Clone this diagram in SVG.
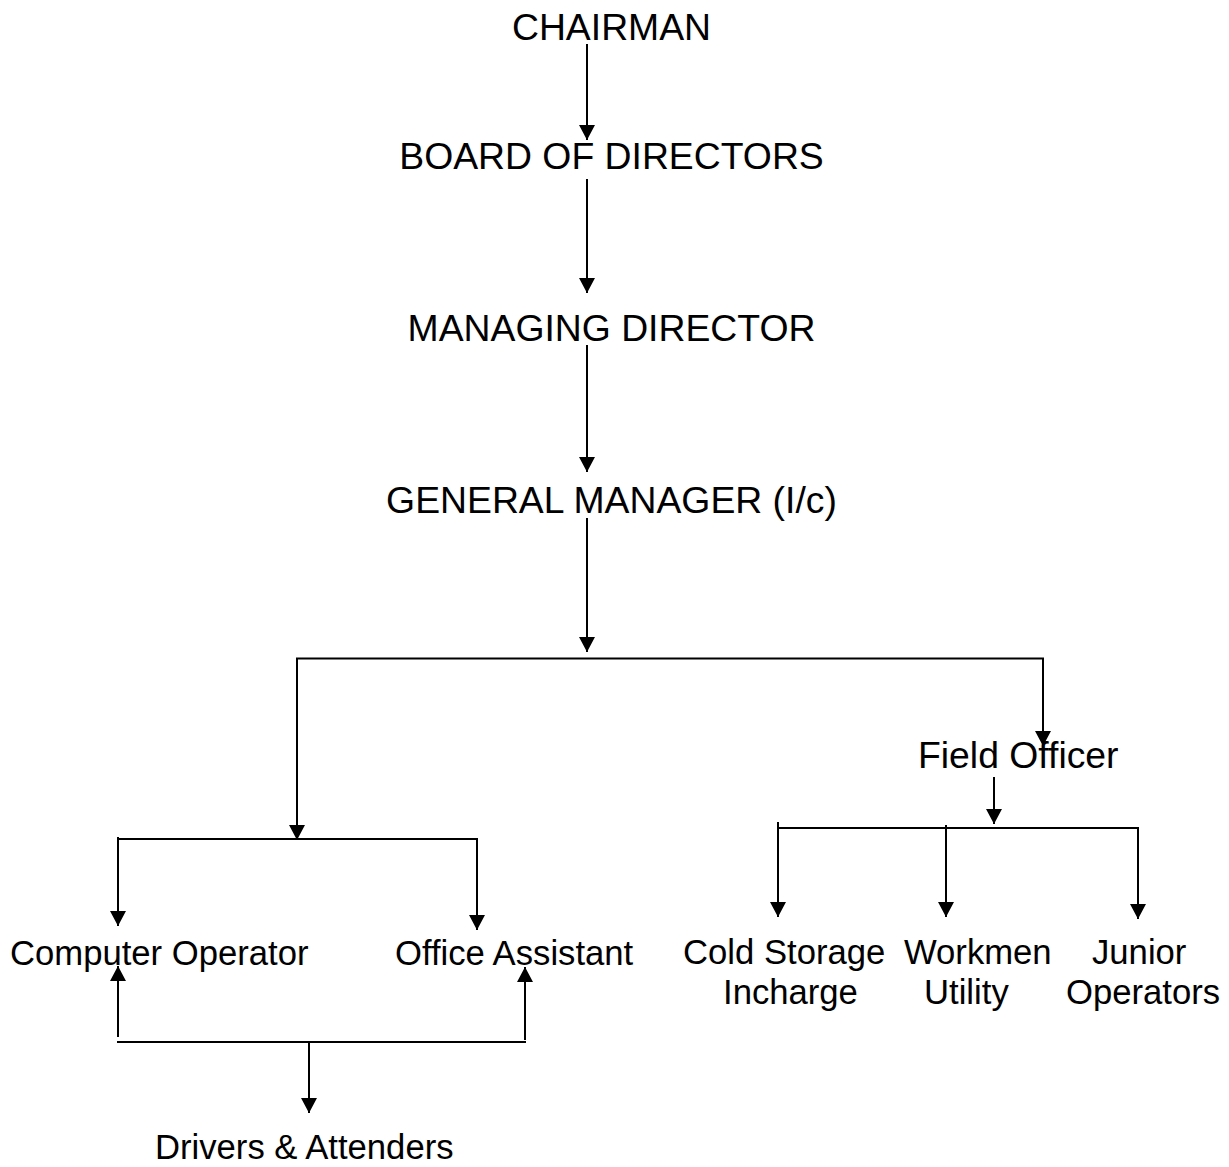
<svg xmlns="http://www.w3.org/2000/svg" width="1229" height="1167" viewBox="0 0 1229 1167">
<style>
  .t { font-family: "Liberation Sans", Arial, sans-serif; fill: #000; }
  .big { font-size: 37.33px; }
  .small { font-size: 34.67px; }
  .c { text-anchor: middle; }
  .ln { stroke: #000; stroke-width: 2; fill: none; }
  .ar { marker-end: url(#ah); }
</style>
<defs>
  <marker id="ah" markerUnits="userSpaceOnUse" markerWidth="15" markerHeight="16" refX="15" refY="8" orient="auto" viewBox="0 0 15 16">
    <path d="M0,0 L15,8 L0,16 z" fill="#000"/>
  </marker>
</defs>
<rect width="1229" height="1167" fill="#fff"/>
<g id="connectors">
  <line class="ln ar" x1="587" y1="44" x2="587" y2="140"/>
  <line class="ln ar" x1="587" y1="179" x2="587" y2="293"/>
  <line class="ln ar" x1="587" y1="345" x2="587" y2="472"/>
  <line class="ln ar" x1="587" y1="518" x2="587" y2="652"/>
  <line class="ln" x1="296" y1="658.5" x2="1044" y2="658.5"/>
  <line class="ln ar" x1="297" y1="658" x2="297" y2="840"/>
  <line class="ln ar" x1="1043" y1="658" x2="1043" y2="746"/>
  <line class="ln" x1="118" y1="839" x2="478" y2="839"/>
  <line class="ln ar" x1="118" y1="837" x2="118" y2="926"/>
  <line class="ln ar" x1="477" y1="838" x2="477" y2="930"/>
  <line class="ln ar" x1="994" y1="777" x2="994" y2="824"/>
  <line class="ln" x1="778" y1="828" x2="1139" y2="828"/>
  <line class="ln ar" x1="778" y1="822" x2="778" y2="917"/>
  <line class="ln ar" x1="946" y1="825" x2="946" y2="917"/>
  <line class="ln ar" x1="1138" y1="827" x2="1138" y2="919"/>
  <line class="ln" x1="117" y1="1042" x2="526" y2="1042"/>
  <line class="ln ar" x1="118" y1="1037" x2="118" y2="966"/>
  <line class="ln ar" x1="525" y1="1040" x2="525" y2="967"/>
  <line class="ln ar" x1="309" y1="1042" x2="309" y2="1113"/>
</g>
<g id="chairman"><text class="t big c" x="611.5" y="40">CHAIRMAN</text></g>
<g id="board"><text class="t big c" x="611.5" y="169">BOARD OF DIRECTORS</text></g>
<g id="md"><text class="t big c" x="611.5" y="341">MANAGING DIRECTOR</text></g>
<g id="gm"><text class="t big c" x="611.5" y="513">GENERAL MANAGER (I/c)</text></g>
<g id="field-officer"><text class="t big" x="918" y="768">Field Officer</text></g>
<g id="computer-operator"><text class="t small" x="10" y="965">Computer Operator</text></g>
<g id="office-assistant"><text class="t small" x="395" y="965">Office Assistant</text></g>
<g id="cold-storage"><text class="t small" x="683" y="964">Cold Storage</text><text class="t small" x="723" y="1004">Incharge</text></g>
<g id="workmen"><text class="t small" x="904" y="964">Workmen</text><text class="t small" x="924" y="1004">Utility</text></g>
<g id="junior"><text class="t small" x="1092" y="964">Junior</text><text class="t small" x="1066" y="1004">Operators</text></g>
<g id="drivers"><text class="t small" x="155" y="1159">Drivers &amp; Attenders</text></g>
</svg>
